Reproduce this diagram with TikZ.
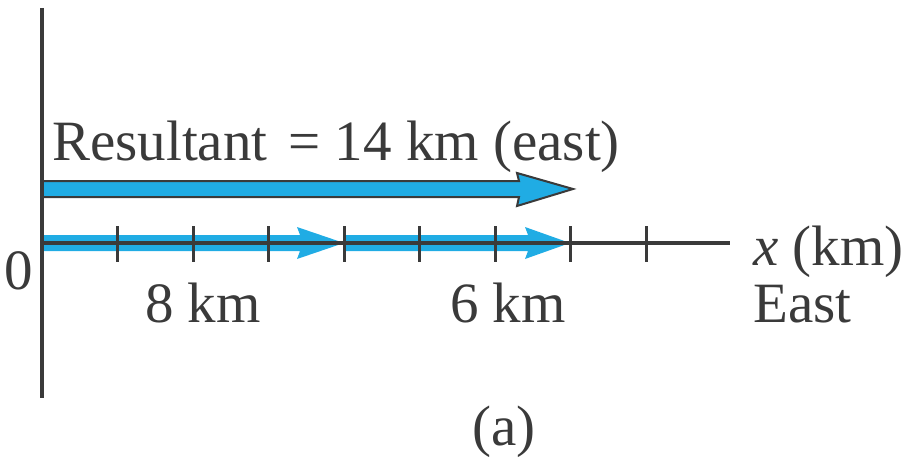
\documentclass[tikz,border=0pt]{standalone}
\usepackage{fontspec}
\setmainfont{Liberation Serif}
\definecolor{vec}{RGB}{32,172,228}
\definecolor{ink}{RGB}{58,58,58}
\tikzset{
  lbl/.style={inner sep=0pt, anchor=base west, text=ink, font=\fontsize{57}{60}\selectfont},
  axisline/.style={draw=ink, line width=3.5pt},
  tickline/.style={draw=ink, line width=3pt},
  vecfill/.style={fill=vec, draw=none},
  vecout/.style={fill=vec, draw=ink, line width=2pt, line join=miter}
}
\begin{document}
\begin{tikzpicture}[x=1pt,y=-1pt]
\useasboundingbox (0,0) rectangle (918,460);
% origin and axis ends
\coordinate (O) at (42,243);
\coordinate (Xend) at (730,243);
\coordinate (Ytop) at (42,8);
\coordinate (Ybot) at (42,398);
\coordinate (P8) at (344,243);
\coordinate (P14) at (570,243);
% resultant arrow
\path[vecout] (42,181) -- (519,181) -- (517,173) -- (573,189) -- (517,206) -- (519,197) -- (42,197) -- cycle;
% component arrows
\path[vecfill] (O) ++(0,-8) -- (300,235) -- (297,227) -- (P8) -- (297,259) -- (300,251) -- (42,251) -- cycle;
\path[vecfill] (P8) ++(0,-8) -- (528,235) -- (525,227) -- (P14) -- (525,259) -- (528,251) -- (344,251) -- cycle;
% axes
\draw[axisline] (O) -- (Xend);
\draw[axisline, line width=4pt] (Ytop) -- (Ybot);
\foreach \k in {1,...,8} {
  \draw[tickline] (42+75.5*\k,226) -- (42+75.5*\k,262);
}
% labels
\node[lbl] (res) at (52,160) {Resultant\hspace{0.12em} = 14 km (east)};
\node[lbl, anchor=base east] (zero) at (33,289) {0};
\node[lbl] (eight) at (145,322) {8 km};
\node[lbl] (six) at (450,322) {6 km};
\node[lbl] (xlab) at (753,265) {\textit{x} (km)};
\node[lbl] (east) at (753,322) {East};
\node[lbl] (cap) at (472,445) {(a)};
\end{tikzpicture}
\end{document}
